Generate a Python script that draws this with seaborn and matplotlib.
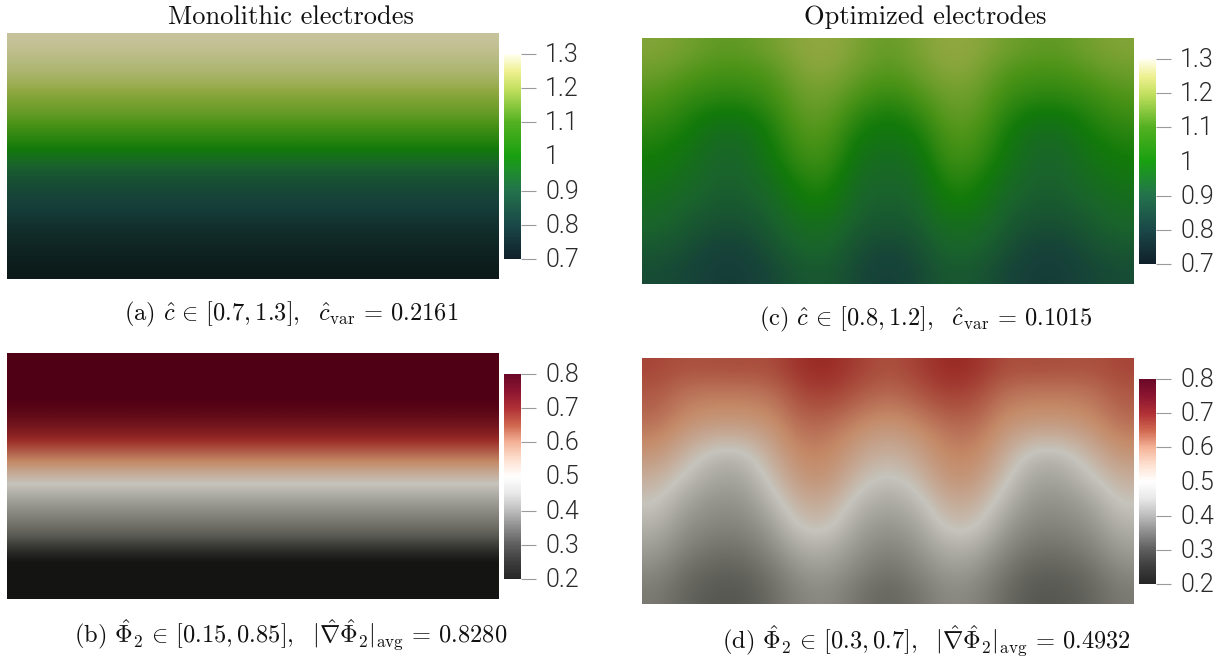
import warnings
import logging
import numpy as np
import pandas as pd
import matplotlib
matplotlib.use("Agg")
import matplotlib.pyplot as plt
from matplotlib.colors import LinearSegmentedColormap
from matplotlib.transforms import ScaledTranslation
import seaborn as sns

logging.getLogger("matplotlib.mathtext").setLevel(logging.ERROR)
warnings.filterwarnings("ignore")

# ---------- text ----------
title_left = "Monolithic electrodes"
title_right = "Optimized electrodes"
caption_a = r"(a) $\hat{c}\,\in\,[0.7,1.3],\ \ \hat{c}_{\mathrm{var}}\,=\,0.2161$"
caption_b = r"(b) $\hat{\Phi}_2\,\in\,[0.15,0.85],\ \ |\hat{\nabla}\hat{\Phi}_2|_{\mathrm{avg}}\,=\,0.8280$"
caption_c = r"(c) $\hat{c}\,\in\,[0.8,1.2],\ \ \hat{c}_{\mathrm{var}}\,=\,0.1015$"
caption_d = r"(d) $\hat{\Phi}_2\,\in\,[0.3,0.7],\ \ |\hat{\nabla}\hat{\Phi}_2|_{\mathrm{avg}}\,=\,0.4932$"

# ---------- colourbar ticks ----------
conc_ticks = [1.3, 1.2, 1.1, 1.0, 0.9, 0.8, 0.7]
conc_labels = ["1.3", "1.2", "1.1", "1", "0.9", "0.8", "0.7"]
pot_ticks = [0.8, 0.7, 0.6, 0.5, 0.4, 0.3, 0.2]
pot_labels = ["0.8", "0.7", "0.6", "0.5", "0.4", "0.3", "0.2"]

# ---------- monolithic fields: top-to-bottom profiles ----------
mono_c = [1.295, 1.28, 1.26, 1.24, 1.21, 1.17, 1.14, 1.09, 1.045, 1.0, 0.91, 0.86,
          0.83, 0.81, 0.79, 0.765, 0.745, 0.73, 0.715, 0.70]
mono_phi = [0.85, 0.83, 0.81, 0.80, 0.79, 0.765, 0.735, 0.68, 0.62, 0.56, 0.505, 0.46,
            0.415, 0.37, 0.32, 0.265, 0.215, 0.19, 0.17, 0.155]

# ---------- optimized fields: columns left-to-right, each top-to-bottom ----------
opt_c_columns = [
    [1.18, 1.15, 1.11, 1.07, 1.03, 1.0, 0.965, 0.93, 0.90, 0.865, 0.835],
    [1.16, 1.12, 1.07, 1.03, 1.0, 0.96, 0.93, 0.895, 0.87, 0.84, 0.82],
    [1.13, 1.09, 1.05, 0.985, 0.925, 0.905, 0.89, 0.87, 0.84, 0.805, 0.795],
    [1.13, 1.09, 1.05, 0.985, 0.925, 0.905, 0.89, 0.87, 0.84, 0.805, 0.795],
    [1.16, 1.11, 1.08, 1.04, 1.01, 0.985, 0.935, 0.90, 0.875, 0.85, 0.82],
    [1.195, 1.18, 1.15, 1.13, 1.10, 1.07, 1.03, 0.99, 0.93, 0.90, 0.865],
    [1.205, 1.19, 1.155, 1.13, 1.10, 1.075, 1.035, 0.995, 0.935, 0.90, 0.87],
    [1.17, 1.14, 1.10, 1.04, 0.99, 0.95, 0.915, 0.89, 0.865, 0.84, 0.82],
    [1.13, 1.11, 1.06, 1.0, 0.965, 0.92, 0.90, 0.88, 0.86, 0.81, 0.80],
    [1.17, 1.14, 1.10, 1.04, 0.99, 0.95, 0.915, 0.89, 0.865, 0.84, 0.82],
    [1.205, 1.19, 1.155, 1.13, 1.10, 1.075, 1.035, 0.995, 0.935, 0.90, 0.87],
    [1.195, 1.18, 1.15, 1.13, 1.10, 1.07, 1.03, 0.99, 0.93, 0.90, 0.865],
    [1.16, 1.11, 1.08, 1.04, 1.01, 0.985, 0.935, 0.90, 0.875, 0.85, 0.82],
    [1.13, 1.09, 1.05, 0.985, 0.925, 0.905, 0.89, 0.87, 0.84, 0.805, 0.795],
    [1.13, 1.09, 1.05, 0.985, 0.925, 0.905, 0.89, 0.87, 0.84, 0.805, 0.795],
    [1.16, 1.12, 1.07, 1.03, 1.0, 0.96, 0.93, 0.895, 0.87, 0.84, 0.82],
    [1.18, 1.15, 1.11, 1.07, 1.03, 1.0, 0.965, 0.93, 0.90, 0.865, 0.835],
]
opt_phi_columns = [
    [0.675, 0.655, 0.64, 0.61, 0.575, 0.535, 0.505, 0.47, 0.435, 0.40, 0.365],
    [0.66, 0.625, 0.60, 0.565, 0.525, 0.485, 0.44, 0.41, 0.38, 0.34, 0.32],
    [0.665, 0.62, 0.59, 0.54, 0.47, 0.44, 0.41, 0.385, 0.35, 0.315, 0.295],
    [0.665, 0.62, 0.59, 0.54, 0.47, 0.44, 0.41, 0.385, 0.35, 0.315, 0.295],
    [0.665, 0.63, 0.60, 0.57, 0.545, 0.51, 0.475, 0.435, 0.40, 0.36, 0.335],
    [0.70, 0.675, 0.65, 0.625, 0.60, 0.58, 0.545, 0.515, 0.465, 0.425, 0.39],
    [0.705, 0.685, 0.65, 0.62, 0.60, 0.58, 0.545, 0.515, 0.465, 0.43, 0.40],
    [0.68, 0.655, 0.62, 0.58, 0.55, 0.515, 0.475, 0.44, 0.415, 0.385, 0.35],
    [0.66, 0.635, 0.60, 0.56, 0.525, 0.48, 0.445, 0.415, 0.38, 0.345, 0.32],
    [0.68, 0.655, 0.62, 0.58, 0.55, 0.515, 0.475, 0.44, 0.415, 0.385, 0.35],
    [0.705, 0.685, 0.65, 0.62, 0.60, 0.58, 0.545, 0.515, 0.465, 0.43, 0.40],
    [0.70, 0.675, 0.65, 0.625, 0.60, 0.58, 0.545, 0.515, 0.465, 0.425, 0.39],
    [0.665, 0.63, 0.60, 0.57, 0.545, 0.51, 0.475, 0.435, 0.40, 0.36, 0.335],
    [0.665, 0.62, 0.59, 0.54, 0.47, 0.44, 0.41, 0.385, 0.35, 0.315, 0.295],
    [0.665, 0.62, 0.59, 0.54, 0.47, 0.44, 0.41, 0.385, 0.35, 0.315, 0.295],
    [0.66, 0.625, 0.60, 0.565, 0.525, 0.485, 0.44, 0.41, 0.38, 0.34, 0.32],
    [0.675, 0.655, 0.64, 0.61, 0.575, 0.535, 0.505, 0.47, 0.435, 0.40, 0.365],
]

# ---------- colour maps: (value, colour) ----------
conc_field_stops = [(0.70, "#0c1a1a"), (0.80, "#163f3a"), (0.90, "#1a642c"), (1.00, "#127a0a"),
                    (1.10, "#4c9418"), (1.20, "#90a840"), (1.30, "#c9c4a0")]
conc_bar_stops = [(0.70, "#10202a"), (0.80, "#1a4848"), (0.90, "#23724c"), (0.95, "#1f8a30"),
                  (1.00, "#18a010"), (1.10, "#52b020"), (1.20, "#c4e060"), (1.25, "#eef090"),
                  (1.30, "#fffff0")]
pot_field_stops = [(0.20, "#141412"), (0.30, "#5a5a54"), (0.40, "#8c8c84"), (0.50, "#c6c4bc"),
                   (0.60, "#c48a68"), (0.70, "#9c2e28"), (0.80, "#500015")]
pot_bar_stops = [(0.20, "#262626"), (0.25, "#3d3d3d"), (0.30, "#5e5e5e"), (0.35, "#8c8c8c"),
                 (0.40, "#bdbdbd"), (0.45, "#e8e8e8"), (0.50, "#ffffff"), (0.55, "#fde0d0"),
                 (0.60, "#f4b398"), (0.65, "#d06850"), (0.70, "#b03035"), (0.75, "#8c1530"),
                 (0.80, "#6a0828")]


def make_cmap(name, stops):
    lo, hi = stops[0][0], stops[-1][0]
    return LinearSegmentedColormap.from_list(name, [((v - lo) / (hi - lo), c) for v, c in stops], N=512)


sns.set_theme(style="white")
plt.rcParams["mathtext.fontset"] = "cm"
plt.rcParams["axes.unicode_minus"] = False

W, H = 1229, 657
fig = plt.figure(figsize=(W / 100, H / 100), dpi=100, facecolor="white")


def px_axes(x0, y0, x1, y1):
    return fig.add_axes([x0 / W, 1 - y1 / H, (x1 - x0) / W, (y1 - y0) / H])


def draw_field(rect, table, cmap, vmin, vmax):
    ax = px_axes(*rect)
    df = pd.DataFrame(table)
    sns.heatmap(df, ax=ax, cmap=cmap, vmin=vmin, vmax=vmax, cbar=False,
                xticklabels=False, yticklabels=False, rasterized=True)
    nr, nc = df.shape
    ax.imshow(df.values, cmap=cmap, vmin=vmin, vmax=vmax, interpolation="bicubic",
              extent=(0, nc, nr, 0), aspect="auto", zorder=3)
    ax.set_xlim(0, nc)
    ax.set_ylim(nr, 0)
    ax.axis("off")
    return ax


def draw_bar(rect, cmap, ticks, labels):
    cax = px_axes(*rect)
    hi, lo = ticks[0], ticks[-1]
    n = 256
    levels = pd.DataFrame(np.linspace(hi, lo, n))
    sns.heatmap(levels, ax=cax, cmap=cmap, vmin=lo, vmax=hi, cbar=False,
                xticklabels=False, yticklabels=False)
    cax.yaxis.tick_right()
    cax.set_yticks([(hi - t) / (hi - lo) * n for t in ticks])
    cax.set_yticklabels(labels, fontfamily="Roboto", fontweight=300, fontsize=18,
                        color="#2a2a2a", ha="left", rotation=0)
    cax.tick_params(axis="y", right=True, left=False, length=11, width=0.8, color="#9a9a9a",
                    pad=6.5, labelright=True, labelleft=False)
    mid = len(ticks) // 2
    cax.yaxis.get_major_ticks()[mid].tick2line.set_visible(False)
    lift = ScaledTranslation(0, 1.5 / 100, fig.dpi_scale_trans)
    for lab in cax.get_yticklabels():
        lab.set_transform(lab.get_transform() + lift)
    for sp in cax.spines.values():
        sp.set_visible(False)
    return cax


conc_field = make_cmap("conc_field", conc_field_stops)
conc_bar = make_cmap("conc_bar", conc_bar_stops)
pot_field = make_cmap("pot_field", pot_field_stops)
pot_bar = make_cmap("pot_bar", pot_bar_stops)

draw_field((7, 33, 499, 279), np.array(mono_c)[:, None], conc_field, 0.7, 1.3)
draw_bar((504, 54, 521, 259), conc_bar, conc_ticks, conc_labels)
draw_field((7, 353, 499, 599), np.array(mono_phi)[:, None], pot_field, 0.2, 0.8)
draw_bar((504, 374, 521, 579), pot_bar, pot_ticks, pot_labels)
draw_field((642, 38, 1134, 284), np.array(opt_c_columns).T, conc_field, 0.7, 1.3)
draw_bar((1139, 59, 1156, 264), conc_bar, conc_ticks, conc_labels)
draw_field((642, 358, 1134, 604), np.array(opt_phi_columns).T, pot_field, 0.2, 0.8)
draw_bar((1139, 379, 1156, 584), pot_bar, pot_ticks, pot_labels)

serif = dict(family="cmr10", color="#111111", ha="center", va="center")
for x, y, s, size in [(291, 17, title_left, 19), (925, 17, title_right, 19),
                      (291, 314, caption_a, 17.6), (291, 635, caption_b, 17.6),
                      (926, 319, caption_c, 17.6), (926, 641, caption_d, 17.6)]:
    fig.text(x / W, 1 - y / H, s, fontsize=size, **serif)

fig.savefig("out.png", dpi=100, facecolor="white")
